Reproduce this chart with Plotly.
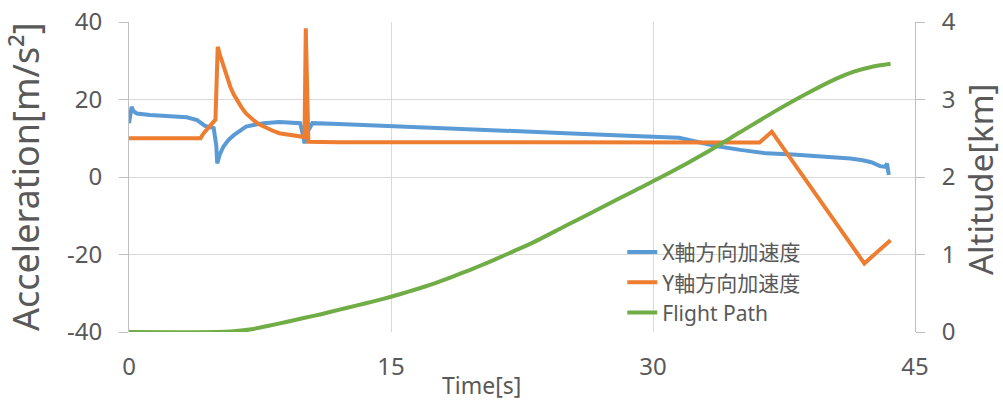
import plotly.graph_objects as go

# X-axis acceleration (m/s^2)
t_x = [0, 0.1, 0.15, 0.25, 0.45, 1.2, 2.5, 3.3, 3.9, 4.35, 4.85, 5.0, 5.05, 5.2, 5.4, 5.7, 6.0, 6.4, 6.7,
       7.2, 7.7, 8.6, 9.8, 9.95, 10.05, 10.15, 10.5, 12, 15, 20, 25, 30, 31.5, 32.5, 33.6, 35, 36.5, 38,
       40, 41.3, 42, 42.5, 43.0, 43.3, 43.4, 43.5]
acc_x = [13.9, 16, 18.1, 17, 16.4, 16.0, 15.7, 15.4, 14.7, 13.2, 12.6, 8, 3.5, 5.8, 7.8, 9.6, 10.8, 12.2, 13.0,
         13.5, 13.9, 14.2, 13.9, 11, 8.7, 11, 13.9, 13.7, 13.2, 12.3, 11.3, 10.4, 10.1, 9.1, 8.0, 7.0, 6.1, 5.8,
         5.3, 4.8, 4.3, 3.8, 2.8, 2.6, 3.5, 0.5]

# Y-axis acceleration (m/s^2)
t_y = [0, 4.1, 4.2, 4.35, 4.95, 5.08, 5.2, 5.35, 5.5, 5.65, 5.8, 6.0, 6.2, 6.45, 6.7, 6.95, 7.2, 7.45, 7.7,
       8.2, 8.6, 9.2, 9.9, 10.05, 10.12, 10.27, 12, 20, 30, 36.1, 36.8, 42.1, 43.6]
acc_y = [10, 10, 10.8, 11.7, 14.8, 33.6, 31.6, 29.5, 27.2, 25.2, 23.3, 21.3, 19.6, 17.9, 16.4, 15.3, 14.4,
         13.6, 13.0, 12.0, 11.3, 10.8, 10.4, 10.3, 38.4, 9.1, 9.0, 9.0, 8.9, 8.9, 11.7, -22.3, -16.3]

# Flight path altitude (km)
t_alt = [0, 5, 6, 7, 8, 9, 10, 11, 12, 13, 14, 15, 16, 17, 18, 19, 20, 21, 22, 23, 25, 27, 29, 31, 33, 35,
         37, 39, 40.5, 41.5, 42.5, 43.6]
alt = [0, 0, 0.01, 0.035, 0.08, 0.13, 0.18, 0.23, 0.285, 0.34, 0.395, 0.455, 0.52, 0.59, 0.67, 0.755, 0.845,
       0.94, 1.04, 1.14, 1.37, 1.6, 1.83, 2.06, 2.31, 2.58, 2.85, 3.1, 3.27, 3.36, 3.42, 3.46]

x_ticks = [0, 15, 30, 45]
y_ticks = [-40, -20, 0, 20, 40]
y_tick_text = ["-40", "-20", "0", "20", "40"]
y2_ticks = [0, 1, 2, 3, 4]

names = ["X軸方向加速度", "Y軸方向加速度", "Flight Path"]
colors = ["#5B9BD5", "#ED7D31", "#70AD47"]

FONT = "Noto Sans, Noto Sans CJK JP, sans-serif"
TXT = "#595959"

fig = go.Figure()
fig.add_trace(go.Scatter(x=t_x, y=acc_x, mode="lines", name=names[0],
                         line=dict(color=colors[0], width=4)))
fig.add_trace(go.Scatter(x=t_y, y=acc_y, mode="lines", name=names[1],
                         line=dict(color=colors[1], width=4)))
fig.add_trace(go.Scatter(x=t_alt, y=alt, mode="lines", name=names[2], yaxis="y2",
                         line=dict(color=colors[2], width=4, shape="spline", smoothing=0.8)))

L, R, T, B = 129, 88, 22, 73
W, H = 1003 - L - R, 405 - T - B

fig.update_layout(
    width=1003, height=405,
    margin=dict(l=L, r=R, t=T, b=B, autoexpand=False),
    paper_bgcolor="white", plot_bgcolor="white",
    font=dict(family=FONT, color=TXT, size=24),
    showlegend=True,
    legend=dict(x=0.6276, y=0.323, xanchor="left", yanchor="top",
                bgcolor="rgba(0,0,0,0)", font=dict(size=21, color=TXT),
                tracegroupgap=0, itemwidth=30),
    xaxis=dict(range=[0, 45], tickvals=x_ticks, showgrid=True, gridcolor="#d9d9d9", gridwidth=1,
               zeroline=False, showline=False, ticks="", ticklabelstandoff=18, automargin=False,
               tickfont=dict(size=24, color=TXT)),
    yaxis=dict(range=[-40, 40], tickvals=y_ticks, ticktext=y_tick_text, showgrid=True,
               gridcolor="#d9d9d9", gridwidth=1, automargin=False,
               zeroline=False, showline=True, linecolor="#bfbfbf", linewidth=1,
               ticks="outside", ticklen=9, tickcolor="#bfbfbf", ticklabelstandoff=12,
               tickfont=dict(size=24, color=TXT)),
    yaxis2=dict(range=[0, 4], tickvals=y2_ticks, overlaying="y", side="right", showgrid=False,
                zeroline=False, showline=True, linecolor="#bfbfbf", linewidth=1, automargin=False,
                ticks="outside", ticklen=9, tickcolor="#bfbfbf", ticklabelstandoff=12,
                tickfont=dict(size=24, color=TXT)),
)

# annotations placed by pixel position, converted to paper coordinates
ann = [("Time[s]", 481, 385, 0, 23),
       ("Acceleration[m/s²]", 25, 177, -90, 36),
       ("Altitude[km]", 980, 180, -90, 33)]
for text, px, py, ang, size in ann:
    fig.add_annotation(text=text, x=(px - L) / W, y=(405 - B - py) / H, xref="paper", yref="paper",
                       xanchor="center", yanchor="middle", textangle=ang, showarrow=False,
                       font=dict(size=size, color=TXT))

fig.write_html("out.html", config={"displayModeBar": False},
               post_script="document.body.style.margin='0';document.body.style.overflow='hidden';")
